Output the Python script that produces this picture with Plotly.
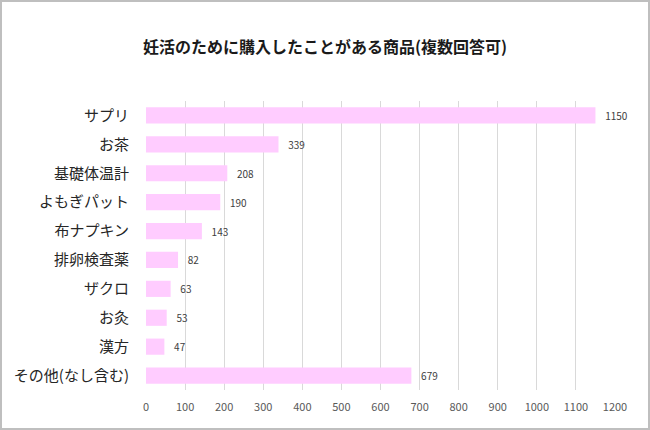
import plotly.graph_objects as go

categories = ["サプリ", "お茶", "基礎体温計", "よもぎパット", "布ナプキン",
              "排卵検査薬", "ザクロ", "お灸", "漢方", "その他(なし含む)"]
values = [1150, 339, 208, 190, 143, 82, 63, 53, 47, 679]
title = "妊活のために購入したことがある商品(複数回答可)"

W, H = 650, 430
L, R, T, B = 146, 35, 101, 40
pw, ph = W - L - R, H - T - B

fig = go.Figure(go.Bar(
    x=values, y=categories, orientation="h",
    marker=dict(color="#FFCCFF", line=dict(width=0)),
    text=values, texttemplate="   %{text}", textposition="outside",
    textfont=dict(size=10, color="#404040"),
    cliponaxis=False, width=0.56,
))

fig.update_layout(
    width=W, height=H,
    margin=dict(l=L, r=R, t=T, b=B, autoexpand=False),
    paper_bgcolor="white", plot_bgcolor="white",
    font=dict(family="Noto Sans CJK JP", color="#404040"),
    title=dict(text="<b>" + title + "</b>", x=0.5, xanchor="center",
               y=1 - 47 / H, yanchor="middle",
               font=dict(size=16, color="#1a1a1a")),
    showlegend=False,
    xaxis=dict(range=[0, 1200], dtick=100, showgrid=True, gridcolor="#D9D9D9",
               gridwidth=1, zeroline=False, showline=False,
               tickfont=dict(size=11, color="#595959"), ticks="",
               ticklabelstandoff=9),
    yaxis=dict(autorange="reversed", showgrid=False, showline=False,
               tickfont=dict(size=15, color="#262626"), ticks="",
               ticklabelstandoff=16),
    shapes=[dict(type="rect", xref="paper", yref="paper",
                 x0=-(L - 1) / pw, x1=1 + (R - 1) / pw,
                 y0=-(B - 1) / ph, y1=1 + (T - 1) / ph,
                 line=dict(color="#BFBFBF", width=2))],
)

fig.write_html("out.html", config={"displayModeBar": False},
               post_script="document.body.style.margin='0';document.body.style.padding='0';")
